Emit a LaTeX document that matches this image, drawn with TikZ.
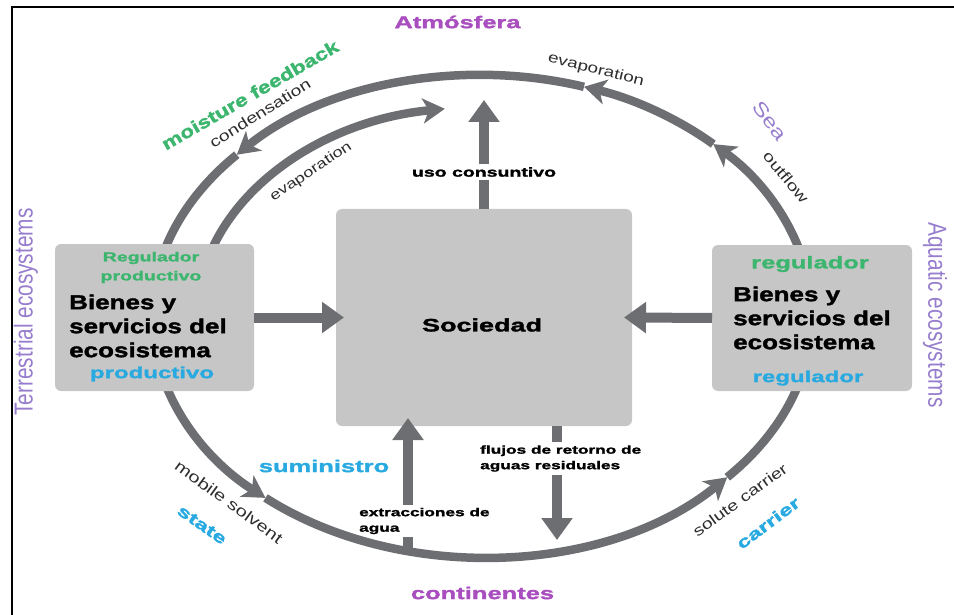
\documentclass[tikz,border=0pt]{standalone}
\usepackage{fontspec}
\setmainfont{Liberation Sans}
\newfontfamily\hvy{Liberation Sans Bold}[FakeStretch=1.5,FakeBold=1.8]
\newfontfamily\hvyb{Liberation Sans Bold}[FakeStretch=1.3,FakeBold=1.8]
\newfontfamily\reg{Liberation Sans}[FakeStretch=1.3]
\newfontfamily\cond{Liberation Sans}[FakeStretch=0.8]
\usetikzlibrary{arrows.meta}
\definecolor{arrowgray}{RGB}{108,110,113}
\definecolor{boxgray}{RGB}{198,198,198}
\definecolor{tgreen}{RGB}{60,182,110}
\definecolor{tblue}{RGB}{40,170,225}
\definecolor{tpurple}{RGB}{168,78,190}
\definecolor{lav}{RGB}{150,125,205}
\definecolor{lblgray}{RGB}{45,45,45}
\tikzset{
  arcline/.style={line width=8.5pt, draw=arrowgray},
  arctip/.style={-{Stealth[width=25pt,length=22pt,inset=6pt]}},
  fatline/.style={line width=10pt, draw=arrowgray},
  fatarrow/.style={fatline, -{Triangle[width=30pt,length=22pt]}},
  ebox/.style={fill=boxgray, rounded corners=6pt, draw=none, inner sep=0pt, outer sep=0pt},
  lbl/.style={font=\reg\fontsize{15}{18}\selectfont, text=lblgray, inner sep=1pt},
  heavy/.style={font=\hvy\fontsize{#1}{#1}\selectfont},
  smallb/.style={font=\hvy\fontsize{11.5}{15.5}\selectfont, inner sep=3pt},
  bienes/.style={font=\hvyb\fontsize{20}{24}\selectfont, align=left, anchor=west, inner sep=0pt, text=black},
  ecosys/.style={font=\cond\fontsize{26}{28}\selectfont, text=lav}
}
\begin{document}
\begin{tikzpicture}[x=1pt,y=1pt]
\useasboundingbox (0,0) rectangle (954,-615);
\draw[line width=2pt] (11.5,-615) -- (11.5,-7.5) -- (954,-7.5);

\coordinate (C) at (482,-316);
% outer cycle, upper half (flows right to left)
\coordinate (o10)  at ([shift={(10:330 and 241)}]C);
\coordinate (o45)  at ([shift={(45.5:330 and 241)}]C);
\coordinate (o72)  at ([shift={(72:330 and 241)}]C);
\coordinate (o138) at ([shift={(138:330 and 241)}]C);
\draw[arcline,arctip] (o10) arc[start angle=10,end angle=45.5,x radius=330,y radius=241];
\draw[arcline,arctip] (o45) arc[start angle=45.5,end angle=72,x radius=330,y radius=241];
\draw[arcline,arctip] (o72) arc[start angle=72,end angle=138,x radius=330,y radius=241];
\draw[arcline] (o138) arc[start angle=138,end angle=172,x radius=330,y radius=241];
% outer cycle, lower half (flows left to right)
\coordinate (o188) at ([shift={(188:330 and 241)}]C);
\coordinate (o229) at ([shift={(229:330 and 241)}]C);
\coordinate (o318) at ([shift={(318:330 and 241)}]C);
\draw[arcline,arctip] (o188) arc[start angle=188,end angle=229,x radius=330,y radius=241];
\draw[arcline,arctip] (o229) arc[start angle=229,end angle=318,x radius=330,y radius=241];
\draw[arcline] (o318) arc[start angle=318,end angle=352,x radius=330,y radius=241];
% inner evaporation arc
\coordinate (i170) at ([shift={(170:285 and 209)}]C);
\draw[arcline,arctip] (i170) arc[start angle=170,end angle=97.5,x radius=285,y radius=209];

% boxes
\node[ebox, minimum width=199pt, minimum height=147pt] (lbox) at (154.5,-317.5) {};
\node[ebox, minimum width=200pt, minimum height=146pt] (rbox) at (812,-318) {};
\node[ebox, minimum width=296pt, minimum height=217pt] (soc) at (484,-317.5) {};

% straight arrows
\coordinate (atmtip) at (484,-100);
\node[smallb, font=\hvy\fontsize{13}{15}\selectfont] (uso) at (484,-172) {uso consuntivo};
\draw[fatline] (soc.north) -- (uso.south);
\draw[fatarrow] (uso.north) -- (atmtip);

\draw[fatarrow, shorten >=-8pt] (lbox.east) -- (soc.west);
\draw[fatarrow, shorten >=-8pt] (rbox.west) -- (soc.east);

\node[smallb, anchor=west, align=left] (ext) at (356,-521) {extracciones de\\agua};
\coordinate (extbase) at (408,-551);
\draw[fatline] (extbase) -- (ext.south -| extbase);
\draw[fatarrow, shorten >=-8pt] (ext.north -| extbase) -- (soc.south -| extbase);

\node[smallb, anchor=west, align=left] (flu) at (477,-458.5) {flujos de retorno de\\aguas residuales};
\coordinate (flutip) at (557,-540);
\draw[fatline] (soc.south -| flutip) -- (flu.north -| flutip);
\draw[fatarrow] (flu.south -| flutip) -- (flutip);

% box texts
\node[font=\hvy\fontsize{13}{19}\selectfont, text=tgreen, align=center] (lreg) at (151,-267.5) {Regulador\\productivo};
\node[bienes] (lbien) at (69,-326) {Bienes y\\servicios del\\ecosistema};
\node[heavy=16, text=tblue] (lprod) at (152,-374) {productivo};

\node[heavy=17, text=tgreen] (rreg) at (810,-264) {regulador};
\node[bienes] (rbien) at (733,-318) {Bienes y\\servicios del\\ecosistema};
\node[heavy=16, text=tblue] (rreg2) at (808,-378) {regulador};

\node[heavy=18] (soctxt) at (482,-325) {Sociedad};

% titles
\node[heavy=17, text=tpurple] (atm) at (457.5,-22) {Atmósfera};
\node[heavy=17, text=tpurple] (cont) at (482.5,-593) {continentes};
\node[ecosys, rotate=90] (terr) at (26,-312) {Terrestrial ecosystems};
\node[ecosys, rotate=-90] (aqua) at (935,-315) {Aquatic ecosystems};

% flow labels
\node[font=\hvyb\fontsize{17.5}{20}\selectfont, text=tgreen, rotate=30] (moist) at (250,-95) {moisture feedback};
\node[lbl, rotate=32] (condl) at (260,-113) {condensation};
\node[lbl, font=\reg\fontsize{14}{16}\selectfont, rotate=34] (evin) at (311,-172) {evaporation};
\node[lbl, font=\reg\fontsize{14.5}{16}\selectfont, rotate=-14] (evtop) at (596,-70) {evaporation};
\node[font=\reg\fontsize{19}{21}\selectfont, text=lav, rotate=-52, inner sep=1pt] (sea) at (770,-121) {Sea};
\node[lbl, rotate=-50] (outf) at (786,-177) {outflow};
\node[heavy=17, text=tblue] (sumi) at (324,-466) {suministro};
\node[lbl, font=\reg\fontsize{15.5}{18}\selectfont, rotate=-36] (mobs) at (229,-502) {mobile solvent};
\node[heavy=16, text=tblue, rotate=-35] (stat) at (202,-525) {state};
\node[lbl, rotate=36] (solc) at (740,-500) {solute carrier};
\node[heavy=16, text=tblue, rotate=37, inner sep=1pt] (carr) at (768,-523) {carrier};
\end{tikzpicture}
\end{document}
